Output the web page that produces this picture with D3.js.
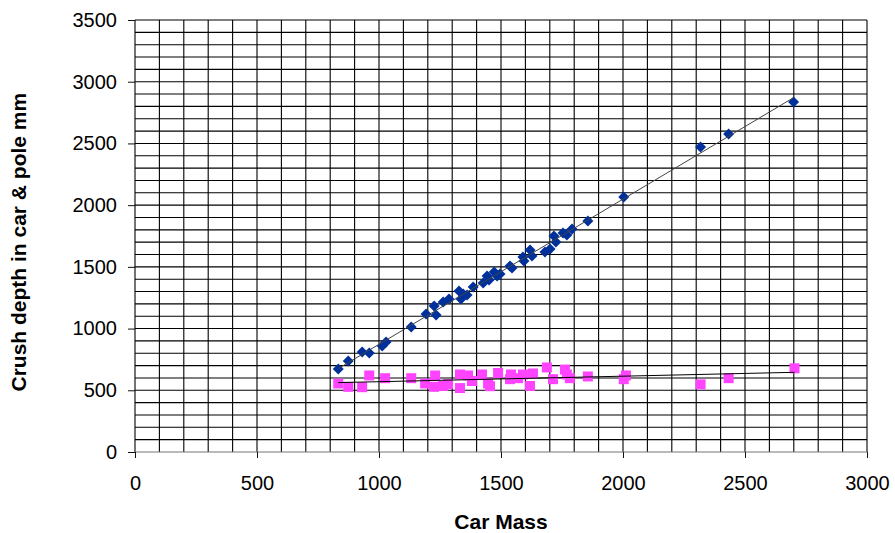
<!DOCTYPE html>
<html>
  <head>
    <meta charset="UTF-8">
    <title>Crush depth vs car mass</title>
    <script src="https://d3js.org/d3.v7.min.js"></script>
    <style>
      body { margin: 0; background: #fff; }
      text { font-family: "Liberation Sans", Arial, sans-serif; }
    </style>
  </head>
  <body>
    <div id="chart"></div>
  <script>
// data
var carMass = [833, 874, 931, 960, 1013, 1029, 1132, 1193, 1226, 1234, 1263, 1287, 1328, 1336, 1345,
               1361, 1386, 1427, 1443, 1451, 1472, 1484, 1496, 1537, 1545, 1590, 1594, 1619, 1627,
               1680, 1701, 1717, 1725, 1754, 1770, 1791, 1856, 2003, 2318, 2433, 2699];
var crushCarPole = [673, 737, 810, 802, 859, 891, 1013, 1118, 1183, 1110, 1216, 1240, 1305, 1240, 1280,
                    1272, 1337, 1370, 1426, 1394, 1459, 1426, 1442, 1507, 1491, 1580, 1548, 1637, 1588,
                    1621, 1645, 1750, 1702, 1775, 1759, 1807, 1872, 2066, 2472, 2577, 2836];

var poleMass = [833, 874, 931, 960, 1025, 1132, 1189, 1226, 1230, 1263, 1283, 1332, 1332, 1365, 1381,
                1422, 1447, 1455, 1488, 1537, 1541, 1570, 1590, 1619, 1631, 1688, 1713, 1762, 1770,
                1782, 1856, 2003, 2012, 2318, 2433, 2703];
var crushPole = [555, 528, 525, 620, 598, 598, 555, 528, 620, 535, 550, 518, 628, 620, 575,
                 628, 555, 533, 640, 590, 628, 598, 628, 535, 636, 685, 590, 668, 628,
                 598, 612, 590, 620, 548, 598, 678];

var xTicks = [0, 500, 1000, 1500, 2000, 2500, 3000];
var yTicks = [0, 500, 1000, 1500, 2000, 2500, 3000, 3500];

var width = 895, height = 533;
var margin = {top: 20, right: 28, bottom: 81, left: 135};

var svg = d3.select("#chart")
            .append("svg")
            .attr("width", width)
            .attr("height", height);

var xScale = d3.scaleLinear()
               .domain([0, 3000])
               .range([margin.left, width - margin.right]);
var yScale = d3.scaleLinear()
               .domain([0, 3500])
               .range([height - margin.bottom, margin.top]);

//grid, every 100
var grid = svg.append("g").attr("stroke", "#000").attr("stroke-width", 1.1);
grid.selectAll(".gx")
    .data(d3.range(0, 3001, 100))
    .enter()
    .append("line")
    .attr("x1", function(d) { return xScale(d); })
    .attr("x2", function(d) { return xScale(d); })
    .attr("y1", yScale(0))
    .attr("y2", yScale(3500));
grid.selectAll(".gy")
    .data(d3.range(0, 3501, 100))
    .enter()
    .append("line")
    .attr("x1", xScale(0))
    .attr("x2", xScale(3000))
    .attr("y1", function(d) { return yScale(d); })
    .attr("y2", function(d) { return yScale(d); })
    .attr("stroke", function(d) { return d === 0 ? "#777" : null; });

//axes
var xAxis = d3.axisBottom(xScale).tickValues(xTicks).tickSize(6).tickPadding(18).tickFormat(d3.format("d"));
var yAxis = d3.axisLeft(yScale).tickValues(yTicks).tickSize(7).tickPadding(11).tickFormat(d3.format("d"));

var gx = svg.append("g")
            .attr("transform", "translate(0," + yScale(0) + ")")
            .call(xAxis);
var gy = svg.append("g")
            .attr("transform", "translate(" + xScale(0) + ",0)")
            .call(yAxis);
[gx, gy].forEach(function(g) {
  g.select(".domain").remove();
  g.selectAll("line").attr("stroke", "#111");
  g.selectAll("text").attr("font-size", 20).attr("fill", "#000")
   .style("font-family", "'Liberation Sans', Arial, sans-serif");
});

//axis titles
svg.append("text")
   .attr("x", (xScale(0) + xScale(3000)) / 2)
   .attr("y", 529)
   .attr("text-anchor", "middle")
   .attr("font-size", 21)
   .attr("font-weight", "bold")
   .text("Car Mass");

svg.append("text")
   .attr("transform", "translate(26," + (yScale(1700)) + ") rotate(-90)")
   .attr("text-anchor", "middle")
   .attr("font-size", 21)
   .attr("font-weight", "bold")
   .text("Crush depth in car & pole mm");

//linear trend lines
function fit(xs, ys) {
  var mx = d3.mean(xs), my = d3.mean(ys);
  var sxy = 0, sxx = 0;
  xs.forEach(function(x, i) { sxy += (x - mx) * (ys[i] - my); sxx += (x - mx) * (x - mx); });
  var b = sxy / sxx, a = my - b * mx;
  var ext = d3.extent(xs);
  return [[ext[0], a + b * ext[0]], [ext[1], a + b * ext[1]]];
}
var line = d3.line()
             .x(function(d) { return xScale(d[0]); })
             .y(function(d) { return yScale(d[1]); });

//pink squares
svg.append("g")
   .selectAll("rect")
   .data(poleMass)
   .enter()
   .append("rect")
   .attr("x", function(d) { return xScale(d) - 5; })
   .attr("y", function(d, i) { return yScale(crushPole[i]) - 5; })
   .attr("width", 10)
   .attr("height", 10)
   .attr("fill", "#ff44ff");

//blue diamonds
svg.append("g")
   .selectAll("path")
   .data(carMass)
   .enter()
   .append("path")
   .attr("d", "M0,-5.5L5.5,0L0,5.5L-5.5,0Z")
   .attr("transform", function(d, i) {
     return "translate(" + xScale(d) + "," + yScale(crushCarPole[i]) + ")";
   })
   .attr("fill", "#00309a");

svg.append("path")
   .attr("d", line(fit(carMass, crushCarPole)))
   .attr("fill", "none")
   .attr("stroke", "#444")
   .attr("stroke-width", 1);

svg.append("path")
   .attr("d", line(fit(poleMass, crushPole)))
   .attr("fill", "none")
   .attr("stroke", "#000")
   .attr("stroke-width", 1);
  </script>
  </body>
</html>
